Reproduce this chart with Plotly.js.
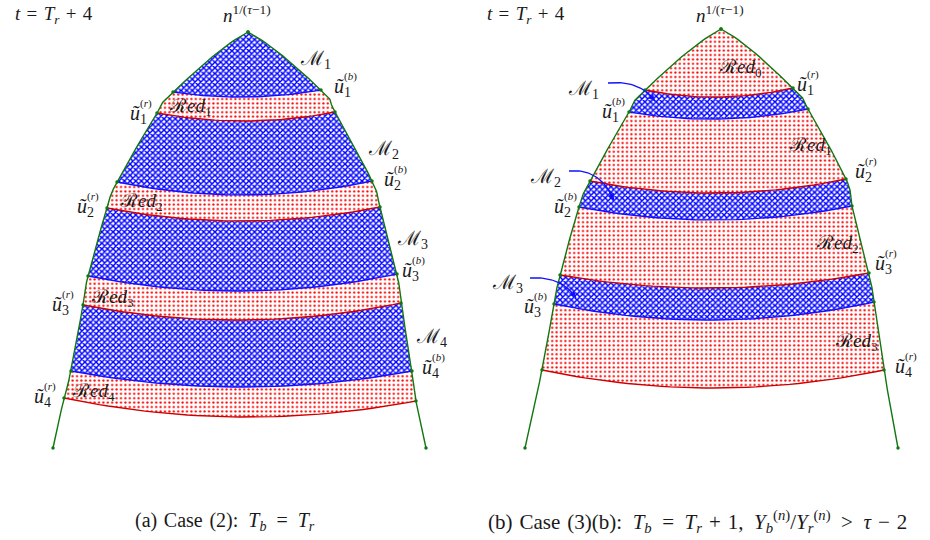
<!DOCTYPE html>
<html><head><meta charset="utf-8">
<script src="https://cdn.plot.ly/plotly-3.0.1.min.js"></script>
<style>html,body{margin:0;padding:0;background:#fff}#chart{width:930px;height:540px}</style>
</head><body><div id="chart"></div>
<script>
// ---------- Panel (a) data ----------
const aApex = [248, 32];
const aBottomL = [53, 448];
const aBottomR = [426, 448];
const aLineLX = [173, 157, 117, 107, 88, 83, 71, 64];
const aLineLY = [92, 113, 182, 208, 276, 305, 371, 398];
const aLineRX = [321, 335, 372, 380, 397, 401, 412, 416];
const aLineRY = [90, 112, 181, 207, 274, 303, 371, 401];
const aLineSag = [6, 8.5, 13.5, 13.5, 16, 16, 16, 17.5];
const aLineKind = ['b', 'r', 'b', 'r', 'b', 'r', 'b', 'r'];
const aRegionKind = ['M', 'R', 'M', 'R', 'M', 'R', 'M', 'R'];

// ---------- Panel (b) data ----------
const bApex = [721, 29];
const bBottomL = [525, 448];
const bBottomR = [898, 448];
const bLineLX = [645, 629, 590, 579, 560, 554, 542];
const bLineLY = [90, 112, 181, 207, 275, 304, 370];
const bLineRX = [793, 808, 846, 852, 869, 874, 884];
const bLineRY = [88, 109, 179, 206, 273, 302, 370];
const bLineSag = [8, 8.5, 13, 13.5, 14, 17, 18];
const bLineKind = ['r', 'b', 'r', 'b', 'r', 'b', 'r'];
const bRegionKind = ['R', 'M', 'R', 'M', 'R', 'M', 'R'];

// slope (|dx/dy|) of the boundary right at the apex
const apexSlope = 1.9;

// arrows (panel b): start, control, end
const arrowSX = [608, 569, 530];
const arrowSY = [83, 171, 278];
const arrowCX = [640, 600, 562];
const arrowCY = [80, 168, 276];
const arrowEX = [655, 614, 576];
const arrowEY = [101, 200, 298];

// ---------- colours / styles ----------
const GREEN = '#117711', BLUE = '#1010ff', RED = '#cc0000';

function crSeg(p0, p1, p2, p3, n) {
  const out = [];
  for (let i = 0; i <= n; i++) {
    const t = i / n, t2 = t * t, t3 = t2 * t;
    const f = k => 0.5 * ((2 * p1[k]) + (-p0[k] + p2[k]) * t + (2 * p0[k] - 5 * p1[k] + 4 * p2[k] - p3[k]) * t2 + (-p0[k] + 3 * p1[k] - 3 * p2[k] + p3[k]) * t3);
    out.push([f(0), f(1)]);
  }
  return out;
}
function boundary(nodes, i, j) { // from node i to node j (i<j)
  const n = nodes.length;
  const c = [nodes[1][0] - nodes[0][0], nodes[1][1] - nodes[0][1]];
  const len = Math.hypot(c[0], c[1]);
  const d = [Math.sign(c[0]) * apexSlope, 1];
  const dl = Math.hypot(d[0], d[1]);
  const T = [d[0] / dl * len, d[1] / dl * len];
  const first = [nodes[1][0] - 2 * T[0], nodes[1][1] - 2 * T[1]];
  const get = k => k < 0 ? first
    : k >= n ? [2 * nodes[n - 1][0] - nodes[n - 2][0], 2 * nodes[n - 1][1] - nodes[n - 2][1]] : nodes[k];
  let pts = [];
  for (let k = i; k < j; k++) {
    const s = crSeg(get(k - 1), get(k), get(k + 1), get(k + 2), 24);
    if (pts.length) s.shift();
    pts = pts.concat(s);
  }
  return pts;
}
function lineCurve(L, R, sag) {
  const c = [(L[0] + R[0]) / 2, (L[1] + R[1]) / 2 + 2 * sag];
  const out = [];
  for (let i = 0; i <= 40; i++) {
    const t = i / 40, u = 1 - t;
    out.push([u * u * L[0] + 2 * u * t * c[0] + t * t * R[0], u * u * L[1] + 2 * u * t * c[1] + t * t * R[1]]);
  }
  return out;
}

const traces = [];
const nodeX = [], nodeY = [];

function buildPanel(apex, bl, br, LX, LY, RX, RY, sag, lkind, rkind) {
  const leftNodes = [apex].concat(LX.map((x, i) => [x, LY[i]])).concat([bl]);
  const rightNodes = [apex].concat(RX.map((x, i) => [x, RY[i]])).concat([br]);
  const lines = LX.map((x, i) => lineCurve([x, LY[i]], [RX[i], RY[i]], sag[i]));
  rkind.forEach((kind, k) => {
    const top = k - 1, bot = k;
    let poly = top < 0 ? [apex] : lines[top].slice();
    poly = poly.concat(boundary(rightNodes, top + 1, bot + 1));
    poly = poly.concat(lines[bot].slice().reverse());
    poly = poly.concat(boundary(leftNodes, top + 1, bot + 1).reverse());
    const pat = kind === 'M'
      ? {shape: 'x', fgcolor: '#0000ff', bgcolor: 'white', size: 4, solidity: 0.6}
      : {shape: '.', fgcolor: '#ff0000', bgcolor: 'white', size: 4.4, solidity: 0.2};
    traces.push({x: poly.map(p => p[0]), y: poly.map(p => p[1]), mode: 'lines', fill: 'toself',
      line: {width: 0, color: 'rgba(0,0,0,0)'}, fillcolor: 'white', fillpattern: pat, hoverinfo: 'skip'});
  });
  lines.forEach((ln, i) => {
    traces.push({x: ln.map(p => p[0]), y: ln.map(p => p[1]), mode: 'lines',
      line: {width: 1.4, color: lkind[i] === 'b' ? BLUE : RED}, hoverinfo: 'skip'});
  });
  [leftNodes, rightNodes].forEach(nodes => {
    const b = boundary(nodes, 0, nodes.length - 1);
    traces.push({x: b.map(p => p[0]), y: b.map(p => p[1]), mode: 'lines',
      line: {width: 1.4, color: GREEN}, hoverinfo: 'skip'});
    nodes.forEach(p => { nodeX.push(p[0]); nodeY.push(p[1]); });
  });
}
buildPanel(aApex, aBottomL, aBottomR, aLineLX, aLineLY, aLineRX, aLineRY, aLineSag, aLineKind, aRegionKind);
buildPanel(bApex, bBottomL, bBottomR, bLineLX, bLineLY, bLineRX, bLineRY, bLineSag, bLineKind, bRegionKind);
traces.push({x: nodeX, y: nodeY, mode: 'markers', marker: {size: 3.5, color: GREEN}, hoverinfo: 'skip'});

const annotations = [];
arrowSX.forEach((sx, i) => {
  const pts = [];
  for (let k = 0; k <= 30; k++) {
    const t = k / 30, u = 1 - t;
    pts.push([u * u * sx + 2 * u * t * arrowCX[i] + t * t * arrowEX[i], u * u * arrowSY[i] + 2 * u * t * arrowCY[i] + t * t * arrowEY[i]]);
  }
  traces.push({x: pts.map(p => p[0]), y: pts.map(p => p[1]), mode: 'lines', line: {width: 1.3, color: BLUE}, hoverinfo: 'skip'});
  const q = pts[24];
  annotations.push({x: arrowEX[i], y: arrowEY[i], ax: q[0], ay: q[1], axref: 'x', ayref: 'y', xref: 'x', yref: 'y',
    text: '', showarrow: true, arrowhead: 2, arrowsize: 1, arrowwidth: 1.3, arrowcolor: BLUE});
});

// ---------- text ----------
const FONT = '"Liberation Serif", "DejaVu Serif", serif';
function txt(x, y, text, size, xa) {
  annotations.push({x: x, y: y, xref: 'x', yref: 'y', text: text, showarrow: false,
    xanchor: xa || 'center', yanchor: 'middle', font: {family: FONT, size: size, color: '#1a1a1a'}});
}
const SP = '\u2004', EN = '\u2002';
txt(54, 15, '<i>t</i>' + SP + '=' + SP + '<i>T</i><sub><i>r</i></sub>' + SP + '+' + SP + '4', 19);
txt(526, 15, '<i>t</i>' + SP + '=' + SP + '<i>T</i><sub><i>r</i></sub>' + SP + '+' + SP + '4', 19);
txt(247, 14, '<i>n</i><sup>1/(<i>τ</i>−1)</sup>', 19);
txt(720, 14, '<i>n</i><sup>1/(<i>τ</i>−1)</sup>', 19);
// M labels
const mLabX = [315, 383, 412, 431, 583, 545, 507];
const mLabY = [59, 149, 239, 337, 89, 177, 283];
const mLabIdx = [1, 2, 3, 4, 1, 2, 3];
mLabX.forEach((x, i) => txt(x, mLabY[i], 'ℳ<sub>' + mLabIdx[i] + '</sub>', 20));
// Red labels
const rLabX = [190, 141, 112, 93, 740, 810, 837, 856];
const rLabY = [107, 202, 298, 392, 68, 146, 244, 342];
const rLabIdx = [1, 2, 3, 4, 0, 1, 2, 3];
rLabX.forEach((x, i) => txt(x, rLabY[i], 'ℛ<i>ed</i><sub>' + rLabIdx[i] + '</sub>', 19));
// u labels
const uLabX = [332, 128, 382, 75, 400, 50, 420, 32, 795, 600, 853, 552, 873, 522, 893];
const uLabY = [85, 112, 178, 205, 269, 303, 366, 395, 83, 110, 170, 205, 262, 305, 365];
const uLabIdx = [1, 1, 2, 2, 3, 3, 4, 4, 1, 1, 2, 2, 3, 3, 4];
const uLabSup = ['b', 'r', 'b', 'r', 'b', 'r', 'b', 'r', 'r', 'b', 'r', 'b', 'r', 'b', 'r'];
uLabX.forEach((x, i) => {
  txt(x, uLabY[i] + 2, '<i>ũ</i><sub>' + uLabIdx[i] + '</sub>', 20, 'left');
  txt(x + 10, uLabY[i] - 9, '(<i>' + uLabSup[i] + '</i>)', 11, 'left');
});
// captions
txt(225, 521, '(a)' + SP + 'Case' + SP + '(2):' + EN + '<i>T</i><sub><i>b</i></sub>' + EN + '=' + EN + '<i>T</i><sub><i>r</i></sub>', 20);
txt(697, 521, '(b)' + SP + 'Case' + SP + '(3)(b):' + EN + '<i>T</i><sub><i>b</i></sub>' + EN + '=' + EN + '<i>T</i><sub><i>r</i></sub>' + SP + '+' + SP + '1,' + EN + '<i>Y</i><sub><i>b</i></sub><sup>(<i>n</i>)</sup>/<i>Y</i><sub><i>r</i></sub><sup>(<i>n</i>)</sup>' + EN + '>' + EN + '<i>τ</i>' + SP + '−' + SP + '2', 21);

const layout = {
  width: 930, height: 540, margin: {l: 0, r: 0, t: 0, b: 0},
  paper_bgcolor: 'white', plot_bgcolor: 'white', showlegend: false,
  xaxis: {range: [0, 930], visible: false, fixedrange: true},
  yaxis: {range: [540, 0], visible: false, fixedrange: true},
  annotations: annotations
};
Plotly.newPlot('chart', traces, layout, {staticPlot: true, displayModeBar: false});
</script></body></html>
